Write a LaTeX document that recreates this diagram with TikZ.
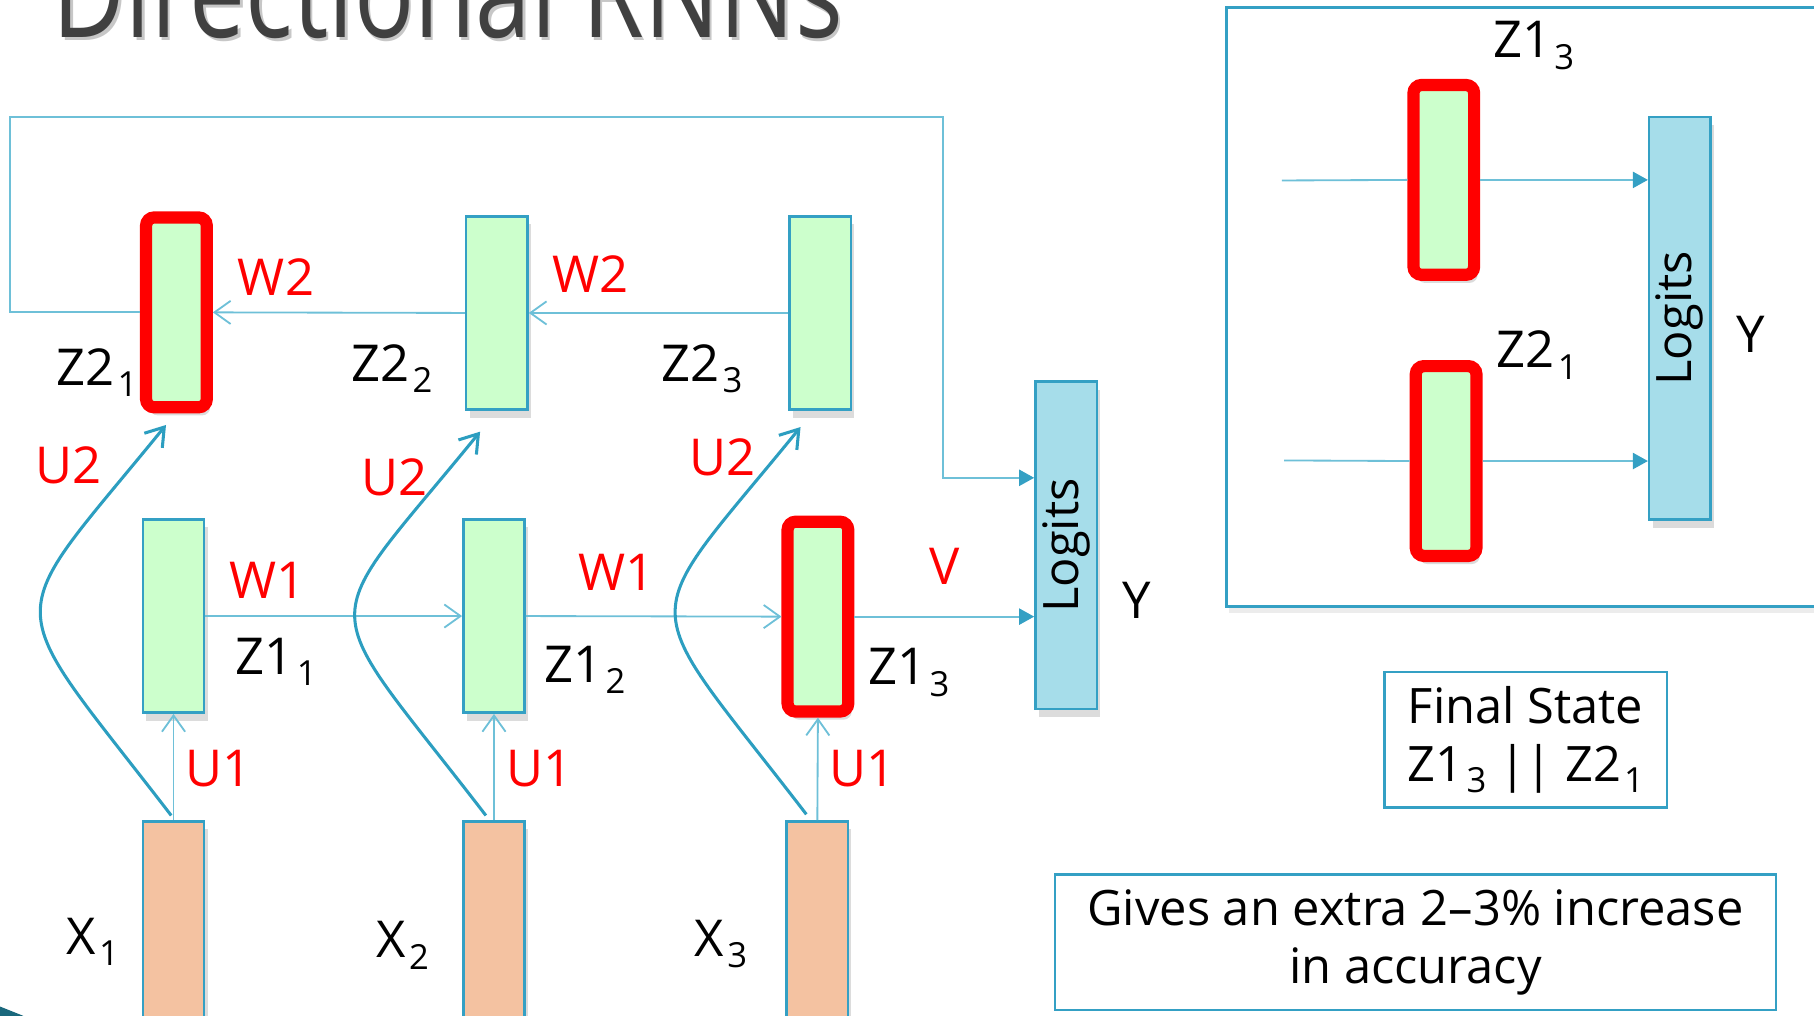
\documentclass[tikz,border=0pt]{standalone}
\usepackage{fontspec}
\setmainfont{Open Sans}
\newfontfamily\titlefont[FakeStretch=0.78]{Open Sans}
\usetikzlibrary{arrows.meta,shadows,calc}

\definecolor{boxedge}{RGB}{52,160,196}
\definecolor{linkcol}{RGB}{110,192,216}
\definecolor{curvecol}{RGB}{44,158,192}
\definecolor{cellgreen}{RGB}{204,255,204}
\definecolor{inputsalmon}{RGB}{244,194,161}
\definecolor{logitblue}{RGB}{166,221,234}
\definecolor{titlegray}{RGB}{64,64,64}
\definecolor{cornerteal}{RGB}{26,104,124}

% subscript index used in the state names
\newcommand{\lsub}[1]{\kern0.06em\raisebox{-0.22em}{\fontsize{8.5}{8.5}\selectfont#1}}

\tikzset{
  cell/.style={draw=boxedge, line width=0.6pt, fill=cellgreen,
    minimum width=0.53cm, minimum height=1.67cm, inner sep=0pt,
    drop shadow={shadow xshift=0.03cm, shadow yshift=-0.07cm, opacity=0.28}},
  hot/.style={cell, draw=red, line width=3pt, rounded corners=2pt,
    minimum width=0.524cm, minimum height=1.64cm},
  xin/.style={cell, fill=inputsalmon, minimum height=1.9cm},
  logit/.style={cell, fill=logitblue},
  lab/.style={font=\fontsize{12.5}{15}\selectfont, anchor=base west, inner sep=0pt},
  wlab/.style={lab, text=red},
  link/.style={draw=linkcol, line width=0.45pt},
  barb/.style={link, -{Straight Barb[length=0.14cm, width=0.2cm]}},
  feed/.style={link, -{Triangle[length=0.13cm, width=0.14cm, color=boxedge]}},
  skip/.style={draw=curvecol, line width=0.75pt,
    -{Straight Barb[length=0.15cm, width=0.2cm]}},
  panel/.style={draw=boxedge, line width=0.7pt, fill=white},
  boxtext/.style={font=\fontsize{12}{14.2}\selectfont, inner sep=0pt}
}

\begin{document}
\begin{tikzpicture}[x=0.01cm, y=-0.01cm]
\useasboundingbox (0,0) rectangle (1568,878);

% heading, partly above the page edge
\node[anchor=base west, inner sep=0pt, text=black!22,
  font=\titlefont\fontsize{31.5}{36}\selectfont] (titleshadow) at (47,35) {Directional RNNs};
\node[anchor=base west, inner sep=0pt, text=titlegray,
  font=\titlefont\fontsize{31.5}{36}\selectfont] (title) at (45,32) {Directional RNNs};

% corner ornament
\fill[cornerteal] (0,870) -- (20,878) -- (0,878) -- cycle;

% ---------- unrolled network ----------
\node[hot]  (z21) at (152.5,270) {};
\node[cell] (z22) at (429.5,270.5) {};
\node[cell] (z23) at (709,270.5) {};

\node[cell] (z11) at (150,532.5) {};
\node[cell] (z12) at (427,532.5) {};
\node[hot]  (z13) at (707,533) {};

\node[xin] (x1) at (150,805) {};
\node[xin] (x2) at (427,805) {};
\node[xin] (x3) at (706.5,805) {};

\node[logit, minimum height=2.83cm] (logits) at (921.5,471.5) {};
\node[rotate=90, boxtext] (loglab) at (logits.center) {Logits};

% backward chain and its path to the output
\draw[barb] (z23.west) -- (z22.east);
\draw[barb] (z22.west) -- (z21.east);
\coordinate (loopA) at (9,270);
\coordinate (loopB) at (9,101);
\coordinate (loopC) at (815,101);
\coordinate (loopD) at (815,413);
\draw[feed] (z21.west) -- (loopA) -- (loopB) -- (loopC) -- (loopD) -- (loopD -| logits.west);

% forward chain
\draw[barb] (z11.east) -- (z12.west);
\draw[barb] (z12.east) -- (z13.west);
\draw[feed] (z13.east) -- (z13.east -| logits.west);

% inputs
\draw[barb] (x1.north) -- (z11.south);
\draw[barb] (x2.north) -- (z12.south);
\draw[barb] (x3.north) -- (z13.south);
\draw[skip] ($(x1.north)+(-2,-4)$) .. controls +(-150,-195) and +(-145,178) .. ($(z21.south)+(-9,10)$);
\draw[skip] ($(x2.north)+(-7,-4)$) .. controls +(-150,-195) and +(-145,178) .. ($(z22.south)+(-14.5,18)$);
\draw[skip] ($(x3.north)+(-9.5,-5)$) .. controls +(-150,-195) and +(-145,178) .. ($(z23.south)+(-17,14)$);

% weight labels
\node[wlab] (w2a) at (205,255) {W2};
\node[wlab] (w2b) at (477,253) {W2};
\node[wlab] (w1a) at (198,517) {W1};
\node[wlab] (w1b) at (499,510) {W1};
\node[wlab] (vlab) at (803,505) {V};
\node[wlab] (u1a) at (160,680) {U1};
\node[wlab] (u1b) at (437,680) {U1};
\node[wlab] (u1c) at (716,680) {U1};
\node[wlab] (u2a) at (30,418) {U2};
\node[wlab] (u2b) at (312,428) {U2};
\node[wlab] (u2c) at (595,411) {U2};

% state labels
\node[lab] (lz21) at (48,333) {Z2\lsub{1}};
\node[lab] (lz22) at (303,330) {Z2\lsub{2}};
\node[lab] (lz23) at (571,330) {Z2\lsub{3}};
\node[lab] (lz11) at (203,583) {Z1\lsub{1}};
\node[lab] (lz12) at (470,590) {Z1\lsub{2}};
\node[lab] (lz13) at (750,592) {Z1\lsub{3}};
\node[lab] (lx1) at (57,825) {X\lsub{1}};
\node[lab] (lx2) at (325,828) {X\lsub{2}};
\node[lab] (lx3) at (600,827) {X\lsub{3}};
\node[lab] (ly) at (970,535) {Y};

% ---------- final state panel ----------
\node[panel, anchor=north west, minimum width=5.6cm, minimum height=5.18cm, inner sep=0pt,
  drop shadow={shadow xshift=0.02cm, shadow yshift=-0.05cm, opacity=0.15}] (frame) at (1059,5) {};
\node[hot] (rz13) at (1248,155.5) {};
\node[hot] (rz21) at (1250,398.5) {};
\node[logit, minimum height=3.48cm] (rlog) at (1452,275) {};
\node[rotate=90, boxtext] (rloglab) at (rlog.center) {Logits};

\coordinate (rin1) at (1108,156);
\coordinate (rin2) at (1110,398);
\draw[link] (rin1) -- (rz13.west);
\draw[link] (rin2) -- (rz21.west);
\draw[feed] (rz13.east) -- (rz13.east -| rlog.west);
\draw[feed] (rz21.east) -- (rz21.east -| rlog.west);

\node[lab] (rlz13) at (1290,50) {Z1\lsub{3}};
\node[lab] (rlz21) at (1293,318) {Z2\lsub{1}};
\node[lab] (rly) at (1500,305) {Y};

% ---------- notes ----------
\node[draw=boxedge, line width=0.6pt, minimum width=2.44cm, minimum height=1.17cm,
  align=left, boxtext] (final) at (1319,639.5)
  {Final State\\Z1\lsub{3} || Z2\lsub{1}};
\node[draw=boxedge, line width=0.6pt, minimum width=6.23cm, minimum height=1.17cm,
  align=center, boxtext] (gives) at (1223.5,814.5)
  {Gives an extra 2–3\% increase\\in accuracy};
\end{tikzpicture}
\end{document}
